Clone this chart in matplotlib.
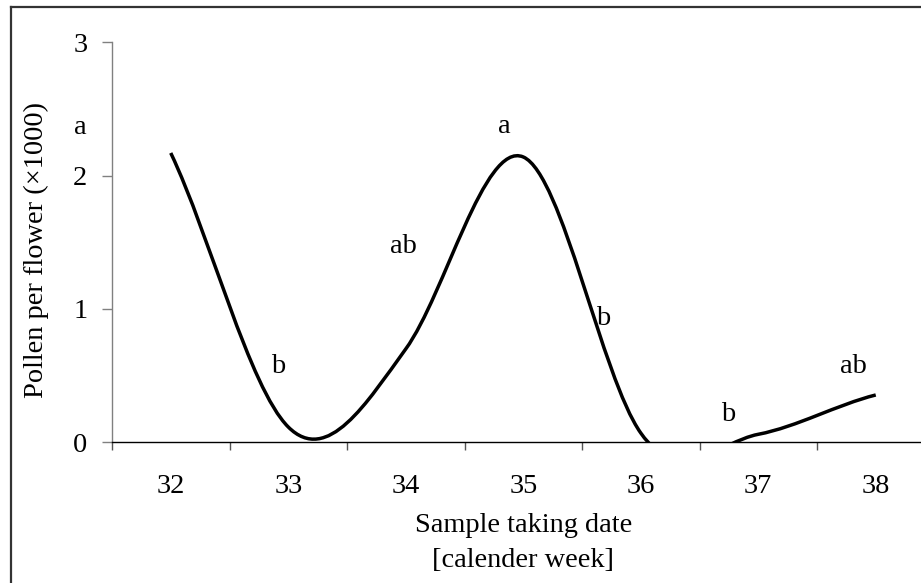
import numpy as np
import matplotlib
matplotlib.use("Agg")
import matplotlib.pyplot as plt
from matplotlib.path import Path
from matplotlib.patches import PathPatch
from matplotlib.lines import Line2D

# Pollen per flower (x1000) by calendar week
weeks = [32, 33, 34, 35, 36, 37, 38]
pollen = [2.17, 0.115, 0.70, 2.14, 0.07, 0.06, 0.355]

# significance letters per week
letters = ["a", "b", "ab", "a", "b", "b", "ab"]
letter_x = [-0.772, 0.917, 1.983, 2.839, 3.681, 4.745, 5.808]
letter_y = [2.31, 0.518, 1.418, 2.317, 0.880, 0.162, 0.517]

y_ticks = [0, 1, 2, 3]

FONT = "Liberation Serif"
FS = 20.4


def smooth_path(xs, ys, k=1.2):
    """Cubic Bezier path through the points (smoothed line)."""
    xs = np.asarray(xs, float)
    ys = np.asarray(ys, float)
    n = len(xs)
    m = np.empty(n)
    m[1:-1] = k * (ys[2:] - ys[:-2]) / (xs[2:] - xs[:-2])
    m[0] = 0.9 * (ys[1] - ys[0]) / (xs[1] - xs[0])
    m[-1] = 0.75 * (ys[-1] - ys[-2]) / (xs[-1] - xs[-2])
    verts = [(xs[0], ys[0])]
    codes = [Path.MOVETO]
    for i in range(n - 1):
        h = xs[i + 1] - xs[i]
        verts += [(xs[i] + h / 3, ys[i] + m[i] * h / 3),
                  (xs[i + 1] - h / 3, ys[i + 1] - m[i + 1] * h / 3),
                  (xs[i + 1], ys[i + 1])]
        codes += [Path.CURVE4] * 3
    return Path(verts, codes)


W, H = 921, 583
fig = plt.figure(figsize=(W / 100, H / 100), dpi=100)

# plot area in pixel terms: y axis at x=112, 117.5 px per week
left, right = 112, 112 + 7 * 117.5
bottom, top = 442.3, 42.3
ax = fig.add_axes([left / W, (H - bottom) / H, (right - left) / W, (bottom - top) / H])

xpos = np.arange(len(weeks))
ax.add_patch(PathPatch(smooth_path(xpos, pollen), fill=False, edgecolor="black",
                       lw=2.5, capstyle="butt", joinstyle="round"))

ax.set_xlim(-0.5, len(weeks) - 0.5)
ax.set_ylim(0, 3)

for s in ("top", "right"):
    ax.spines[s].set_visible(False)
ax.spines["left"].set_color("#808080")
ax.spines["left"].set_linewidth(1.0)
ax.spines["bottom"].set_color("black")
ax.spines["bottom"].set_linewidth(1.0)

ax.set_yticks(y_ticks)
ax.set_yticklabels([str(v) for v in y_ticks], fontfamily=FONT, fontsize=FS)
ax.tick_params(axis="y", direction="out", length=7.2, width=1.0, color="#808080",
               pad=10.6, labelcolor="black")

ax.set_xticks(xpos)
ax.set_xticklabels([str(w) for w in weeks], fontfamily=FONT, fontsize=FS)
ax.set_xticks(np.arange(-0.5, len(weeks) + 0.5, 1.0), minor=True)
ax.tick_params(axis="x", which="major", length=0, pad=23.0, labelcolor="black")
ax.tick_params(axis="x", which="minor", direction="out", length=6, width=1.0, color="#555555")

for t, lx, ly in zip(letters, letter_x, letter_y):
    ax.text(lx, ly, t, ha="center", va="baseline", fontfamily=FONT, fontsize=FS,
            clip_on=False)

fig.text(36 / W, (H - 250) / H, "Pollen per flower (\u00d71000)", rotation=90,
         ha="center", va="center", fontfamily=FONT, fontsize=FS)
cx = (left + right) / 2 / W
fig.text(cx, (H - 531.7) / H, "Sample taking date", ha="center", va="baseline",
         fontfamily=FONT, fontsize=FS)
fig.text(cx, (H - 566.7) / H, "[calender week]", ha="center", va="baseline",
         fontfamily=FONT, fontsize=FS)

# chart frame
fx, fy = 10.5 / W, 1 - 7.3 / H
fig.add_artist(Line2D([fx, 1.01], [fy, fy], transform=fig.transFigure, color="#333333", lw=1.6))
fig.add_artist(Line2D([fx, fx], [fy, -0.01], transform=fig.transFigure, color="#333333", lw=1.6))

fig.savefig("out.png", dpi=100)
